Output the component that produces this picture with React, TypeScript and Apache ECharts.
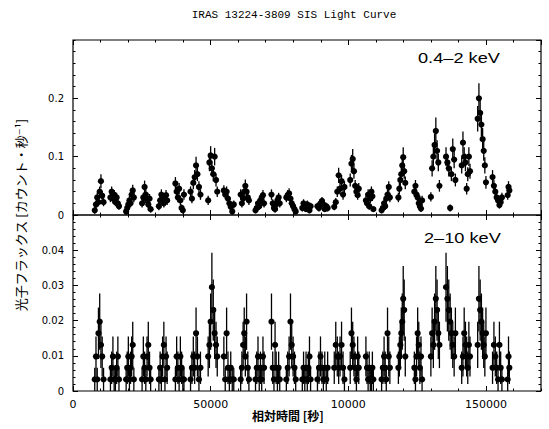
import React, { useEffect, useRef } from "react";
import * as echarts from "echarts";

const TITLE = "IRAS 13224-3809 SIS Light Curve";
const Y_NAME = "光子フラックス [カウント・秒⁻¹]";
const X_NAME = "相対時間 [秒]";
const SOFT_LABEL = "0.4–2 keV";
const HARD_LABEL = "2–10 keV";

const X_MAX = 170000;
const X_TICK_LABELS: Record<number, string> = { 0: "0", 50000: "50000", 100000: "10000", 150000: "150000" };

// time bins (s), shared by both bands
const times = [
  7900, 8350, 8800, 9250, 9700, 10150, 10600, 11100,
  13600, 14050, 14500, 14950, 15400, 15850, 16300, 16700,
  19300, 19700, 20100, 20500, 20900, 21300, 21700, 22100,
  25100, 25550, 26000, 26450, 26900, 27350, 27800, 28200,
  31200, 31650, 32100, 32550, 33000, 33400, 33800, 34200,
  37200, 37650, 38100, 38550, 39000, 39450, 39900, 40300,
  42700, 43200, 43700, 44200, 44700, 45200, 45750, 46300,
  49100, 49550, 50000, 50450, 50950, 51450, 51950, 52400,
  54800, 55300, 55800, 56300, 56800, 57300, 57850, 58400,
  60900, 61350, 61800, 62200, 62600, 63050, 63500, 63900,
  66300, 66750, 67200, 67650, 68100, 68550, 69000, 69400,
  72100, 72550, 73000, 73400, 73800, 74250, 74700, 75100,
  77500, 78000, 78500, 79000, 79450, 79950, 80450, 80900,
  83300, 83750, 84200, 84650, 85100, 85500, 85900, 86300,
  88800, 89350, 89900, 90450, 90950, 91450, 92000, 92500,
  94900, 95450, 96000, 96500, 97000, 97550, 98100, 98600,
  100700, 101150, 101600, 102050, 102500, 102950, 103400, 103800,
  106400, 106800, 107200, 107600, 108000, 108400, 108750, 109100,
  112100, 112550, 113000, 113400, 113800, 114250, 114700, 115100,
  118200, 118550, 118900, 119250, 119600, 119950, 120300, 120700,
  124000, 124400, 124800, 125200, 125600, 126000, 126400, 126800,
  130000, 130450, 130900, 131350, 131800, 132250, 132700, 133100,
  135500, 136000, 136500, 137000, 137450, 137950, 138450, 138900,
  141200, 141650, 142100, 142550, 143000, 143400, 143800, 144200,
  147000, 147450, 147900, 148350, 148800, 149200, 149600, 150000,
  152400, 152900, 153400, 153900, 154400, 154900, 155350, 155800,
  157900, 158200, 158500,
];

// 0.4-2 keV rate (counts/s)
const softVals = [
  0.008, 0.018, 0.03, 0.022, 0.04, 0.058, 0.033, 0.022,
  0.03, 0.04, 0.028, 0.035, 0.022, 0.03, 0.02, 0.015,
  0.006, 0.012, 0.018, 0.025, 0.02, 0.035, 0.042, 0.03,
  0.02, 0.03, 0.048, 0.035, 0.025, 0.018, 0.028, 0.01,
  0.015, 0.025, 0.035, 0.03, 0.02, 0.028, 0.034, 0.025,
  0.054, 0.04, 0.03, 0.045, 0.025, 0.012, 0.008, 0.035,
  0.04, 0.028, 0.055, 0.065, 0.085, 0.07, 0.048, 0.035,
  0.025, 0.09, 0.102, 0.08, 0.07, 0.1, 0.06, 0.04,
  0.042, 0.035, 0.04, 0.028, 0.02, 0.014, 0.006, 0.018,
  0.035, 0.02, 0.028, 0.04, 0.05, 0.04, 0.03, 0.025,
  0.008, 0.012, 0.02, 0.015, 0.025, 0.03, 0.034, 0.02,
  0.035, 0.02, 0.012, 0.01, 0.018, 0.025, 0.03, 0.02,
  0.03, 0.034, 0.037, 0.028, 0.02, 0.015, 0.01, 0.006,
  0.012, 0.02, 0.015, 0.01, 0.018, 0.012, 0.008, 0.015,
  0.015, 0.012, 0.02, 0.024, 0.018, 0.01, 0.015, 0.012,
  0.014, 0.022, 0.04, 0.068, 0.045, 0.058, 0.035, 0.048,
  0.06, 0.088, 0.096, 0.075, 0.05, 0.04, 0.034, 0.045,
  0.025, 0.02, 0.035, 0.015, 0.028, 0.04, 0.032, 0.01,
  0.008, 0.012, 0.02, 0.015, 0.028, 0.035, 0.048, 0.03,
  0.03, 0.045, 0.06, 0.07, 0.085, 0.099, 0.075, 0.055,
  0.04, 0.05, 0.035, 0.03, 0.02, 0.015, 0.011, 0.025,
  0.031, 0.08, 0.1, 0.12, 0.144, 0.11, 0.09, 0.05,
  0.1, 0.09, 0.08, 0.012, 0.07, 0.113, 0.095, 0.06,
  0.085, 0.124, 0.1, 0.09, 0.045, 0.07, 0.1, 0.075,
  0.165, 0.2, 0.175, 0.155, 0.13, 0.11, 0.085, 0.056,
  0.065, 0.05, 0.04, 0.03, 0.025, 0.017, 0.022, 0.03,
  0.034, 0.048, 0.042,
];

const softErrs = [
  0.006, 0.007, 0.008, 0.007, 0.009, 0.012, 0.008, 0.007,
  0.008, 0.009, 0.008, 0.008, 0.007, 0.008, 0.007, 0.006,
  0.005, 0.006, 0.007, 0.008, 0.007, 0.009, 0.01, 0.008,
  0.007, 0.008, 0.011, 0.009, 0.008, 0.007, 0.008, 0.006,
  0.007, 0.008, 0.009, 0.008, 0.007, 0.008, 0.009, 0.008,
  0.011, 0.009, 0.008, 0.01, 0.008, 0.006, 0.005, 0.009,
  0.009, 0.008, 0.011, 0.012, 0.015, 0.012, 0.01, 0.009,
  0.008, 0.015, 0.016, 0.013, 0.012, 0.015, 0.011, 0.009,
  0.009, 0.008, 0.009, 0.008, 0.007, 0.006, 0.005, 0.007,
  0.009, 0.007, 0.008, 0.009, 0.011, 0.009, 0.008, 0.008,
  0.005, 0.006, 0.007, 0.006, 0.008, 0.008, 0.009, 0.007,
  0.009, 0.007, 0.006, 0.006, 0.007, 0.008, 0.008, 0.007,
  0.008, 0.009, 0.009, 0.008, 0.007, 0.006, 0.006, 0.005,
  0.006, 0.007, 0.006, 0.005, 0.007, 0.006, 0.005, 0.006,
  0.006, 0.006, 0.007, 0.007, 0.007, 0.005, 0.006, 0.006,
  0.006, 0.007, 0.009, 0.013, 0.01, 0.011, 0.009, 0.01,
  0.011, 0.015, 0.017, 0.013, 0.01, 0.009, 0.008, 0.01,
  0.008, 0.007, 0.009, 0.006, 0.008, 0.009, 0.008, 0.005,
  0.005, 0.006, 0.007, 0.006, 0.008, 0.009, 0.01, 0.008,
  0.008, 0.01, 0.011, 0.013, 0.015, 0.017, 0.013, 0.011,
  0.009, 0.01, 0.009, 0.008, 0.007, 0.006, 0.006, 0.008,
  0.008, 0.014, 0.016, 0.019, 0.023, 0.018, 0.015, 0.01,
  0.016, 0.015, 0.014, 0.006, 0.012, 0.018, 0.015, 0.011,
  0.014, 0.019, 0.016, 0.015, 0.01, 0.012, 0.016, 0.013,
  0.022, 0.026, 0.023, 0.021, 0.019, 0.017, 0.014, 0.011,
  0.012, 0.01, 0.009, 0.008, 0.008, 0.006, 0.007, 0.008,
  0.008, 0.01, 0.009,
];

// 2-10 keV rate (counts/s)
const hardVals = [
  0.0033, 0.0098, 0.0033, 0.0164, 0.0197, 0.0131, 0.0098, 0.0033,
  0.0033, 0.0066, 0.0098, 0.0033, 0.0033, 0.0066, 0.0098, 0.0033,
  0.0033, 0.0066, 0.0098, 0.0033, 0.0066, 0.0098, 0.0131, 0.0033,
  0.0033, 0.0098, 0.0066, 0.0033, 0.0098, 0.0131, 0.0066, 0.0033,
  0.0033, 0.0066, 0.0033, 0.0098, 0.0131, 0.0033, 0.0098, 0.0066,
  0.0033, 0.0098, 0.0066, 0.0033, 0.0098, 0.0066, 0.0033, 0.0033,
  0.0033, 0.0066, 0.0098, 0.0066, 0.0164, 0.0098, 0.0033, 0.0066,
  0.0098, 0.0131, 0.0197, 0.0295, 0.023, 0.0164, 0.0131, 0.0098,
  0.0098, 0.0033, 0.0164, 0.0066, 0.0033, 0.0066, 0.0033, 0.0033,
  0.0033, 0.0066, 0.0131, 0.0164, 0.0098, 0.0197, 0.0066, 0.0033,
  0.0033, 0.0066, 0.0098, 0.0033, 0.0066, 0.0033, 0.0098, 0.0066,
  0.0197, 0.0066, 0.0033, 0.0131, 0.0066, 0.0033, 0.0066, 0.0033,
  0.0033, 0.0066, 0.0098, 0.0197, 0.0131, 0.0098, 0.0066, 0.0033,
  0.0033, 0.0066, 0.0033, 0.0066, 0.0033, 0.0066, 0.0098, 0.0033,
  0.0033, 0.0066, 0.0098, 0.0066, 0.0033, 0.0066, 0.0033, 0.0066,
  0.0066, 0.0131, 0.0098, 0.0066, 0.0098, 0.0131, 0.0066, 0.0033,
  0.0066, 0.0164, 0.0131, 0.0098, 0.0066, 0.0033, 0.0098, 0.0066,
  0.0098, 0.0066, 0.0033, 0.0066, 0.0033, 0.0033, 0.0066, 0.0033,
  0.0033, 0.0066, 0.0098, 0.0066, 0.0033, 0.0164, 0.0098, 0.0066,
  0.0066, 0.0098, 0.0131, 0.0164, 0.0197, 0.0262, 0.023, 0.0098,
  0.0066, 0.0033, 0.0098, 0.0164, 0.0131, 0.0066, 0.0098, 0.0033,
  0.0098, 0.0164, 0.0131, 0.0197, 0.0262, 0.023, 0.0164, 0.0131,
  0.0295, 0.0262, 0.023, 0.0197, 0.0164, 0.0131, 0.0098, 0.0164,
  0.0066, 0.0098, 0.0164, 0.0131, 0.0098, 0.0066, 0.0131, 0.0098,
  0.0131, 0.0262, 0.023, 0.0197, 0.0164, 0.0131, 0.0098, 0.0164,
  0.0066, 0.0131, 0.0098, 0.0066, 0.0033, 0.0131, 0.0066, 0.0033,
  0.0033, 0.0098, 0.0066,
];

const hardErrs = [
  0.0033, 0.0057, 0.0033, 0.0073, 0.008, 0.0066, 0.0057, 0.0033,
  0.0033, 0.0046, 0.0057, 0.0033, 0.0033, 0.0046, 0.0057, 0.0033,
  0.0033, 0.0046, 0.0057, 0.0033, 0.0046, 0.0057, 0.0066, 0.0033,
  0.0033, 0.0057, 0.0046, 0.0033, 0.0057, 0.0066, 0.0046, 0.0033,
  0.0033, 0.0046, 0.0033, 0.0057, 0.0066, 0.0033, 0.0057, 0.0046,
  0.0033, 0.0057, 0.0046, 0.0033, 0.0057, 0.0046, 0.0033, 0.0033,
  0.0033, 0.0046, 0.0057, 0.0046, 0.0073, 0.0057, 0.0033, 0.0046,
  0.0057, 0.0066, 0.008, 0.0098, 0.0087, 0.0073, 0.0066, 0.0057,
  0.0057, 0.0033, 0.0073, 0.0046, 0.0033, 0.0046, 0.0033, 0.0033,
  0.0033, 0.0046, 0.0066, 0.0073, 0.0057, 0.008, 0.0046, 0.0033,
  0.0033, 0.0046, 0.0057, 0.0033, 0.0046, 0.0033, 0.0057, 0.0046,
  0.008, 0.0046, 0.0033, 0.0066, 0.0046, 0.0033, 0.0046, 0.0033,
  0.0033, 0.0046, 0.0057, 0.008, 0.0066, 0.0057, 0.0046, 0.0033,
  0.0033, 0.0046, 0.0033, 0.0046, 0.0033, 0.0046, 0.0057, 0.0033,
  0.0033, 0.0046, 0.0057, 0.0046, 0.0033, 0.0046, 0.0033, 0.0046,
  0.0046, 0.0066, 0.0057, 0.0046, 0.0057, 0.0066, 0.0046, 0.0033,
  0.0046, 0.0073, 0.0066, 0.0057, 0.0046, 0.0033, 0.0057, 0.0046,
  0.0057, 0.0046, 0.0033, 0.0046, 0.0033, 0.0033, 0.0046, 0.0033,
  0.0033, 0.0046, 0.0057, 0.0046, 0.0033, 0.0073, 0.0057, 0.0046,
  0.0046, 0.0057, 0.0066, 0.0073, 0.008, 0.0093, 0.0087, 0.0057,
  0.0046, 0.0033, 0.0057, 0.0073, 0.0066, 0.0046, 0.0057, 0.0033,
  0.0057, 0.0073, 0.0066, 0.008, 0.0093, 0.0087, 0.0073, 0.0066,
  0.0098, 0.0093, 0.0087, 0.008, 0.0073, 0.0066, 0.0057, 0.0073,
  0.0046, 0.0057, 0.0073, 0.0066, 0.0057, 0.0046, 0.0066, 0.0057,
  0.0066, 0.0093, 0.0087, 0.008, 0.0073, 0.0066, 0.0057, 0.0073,
  0.0046, 0.0066, 0.0057, 0.0046, 0.0033, 0.0066, 0.0046, 0.0033,
  0.0033, 0.0057, 0.0046,
];

const renderErrorPoint = (params: any, api: any) => {
  const x = api.value(0);
  const y = api.value(1);
  const e = api.value(2);
  const p = api.coord([x, y]);
  const lo = api.coord([x, Math.max(y - e, 0)]);
  const hi = api.coord([x, y + e]);
  return {
    type: "group",
    children: [
      {
        type: "line",
        shape: { x1: p[0], y1: lo[1], x2: p[0], y2: hi[1] },
        style: { stroke: "#000", lineWidth: 1.3 },
      },
      {
        type: "circle",
        shape: { cx: p[0], cy: p[1], r: 3.1 },
        style: { fill: "#000" },
      },
    ],
  };
};

const tickFont = "'DejaVu Sans', sans-serif";

function xAx(gridIndex: number, position: string, interval: number, len: number, labels: boolean) {
  return {
    type: "value",
    gridIndex,
    position,
    min: 0,
    max: X_MAX,
    interval,
    axisLine: { show: false, onZero: false },
    splitLine: { show: false },
    axisTick: { show: true, inside: true, length: len, lineStyle: { color: "#000", width: 1 } },
    axisLabel: labels
      ? {
          show: true,
          margin: 8,
          color: "#000",
          fontSize: 11,
          fontFamily: tickFont,
          showMaxLabel: false,
          formatter: (v: number) => (X_TICK_LABELS[v] !== undefined ? X_TICK_LABELS[v] : ""),
        }
      : { show: false },
  };
}

function yAx(gridIndex: number, position: string, max: number, interval: number, len: number, labels: boolean) {
  return {
    type: "value",
    gridIndex,
    position,
    min: 0,
    max,
    interval,
    axisLine: { show: false, onZero: false },
    splitLine: { show: false },
    axisTick: { show: true, inside: true, length: len, lineStyle: { color: "#000", width: 1 } },
    axisLabel: labels
      ? { show: true, margin: 9, color: "#000", fontSize: 10, fontFamily: tickFont, showMaxLabel: false }
      : { show: false },
  };
}

export default function App() {
  const ref = useRef<HTMLDivElement>(null);
  useEffect(() => {
    if (!ref.current) return;
    const chart = echarts.init(ref.current, null, { renderer: "svg" });
    const softData = times.map((t, i) => [t, softVals[i], softErrs[i]]);
    const hardData = times.map((t, i) => [t, hardVals[i], hardErrs[i]]);
    chart.setOption({
      animation: false,
      backgroundColor: "#fff",
      grid: [
        { left: 73, top: 40, width: 468, height: 175, show: true, borderColor: "#000", borderWidth: 1.2, backgroundColor: "transparent" },
        { left: 73, top: 215, width: 468, height: 176, show: true, borderColor: "#000", borderWidth: 1.2, backgroundColor: "transparent" },
      ],
      xAxis: [
        xAx(0, "bottom", 50000, 5, false),
        xAx(0, "bottom", 10000, 2.5, false),
        xAx(0, "top", 50000, 5, false),
        xAx(0, "top", 10000, 2.5, false),
        xAx(1, "bottom", 50000, 5, true),
        xAx(1, "bottom", 10000, 2.5, false),
        xAx(1, "top", 50000, 5, false),
        xAx(1, "top", 10000, 2.5, false),
      ],
      yAxis: [
        yAx(0, "left", 0.3, 0.1, 5, true),
        yAx(0, "left", 0.3, 0.02, 2.5, false),
        yAx(0, "right", 0.3, 0.1, 5, false),
        yAx(0, "right", 0.3, 0.02, 2.5, false),
        yAx(1, "left", 0.05, 0.01, 5, true),
        yAx(1, "left", 0.05, 0.002, 2.5, false),
        yAx(1, "right", 0.05, 0.01, 5, false),
        yAx(1, "right", 0.05, 0.002, 2.5, false),
      ],
      series: [
        { type: "custom", name: SOFT_LABEL, xAxisIndex: 0, yAxisIndex: 0, data: softData, encode: { x: 0, y: 1 }, renderItem: renderErrorPoint },
        { type: "custom", name: HARD_LABEL, xAxisIndex: 4, yAxisIndex: 4, data: hardData, encode: { x: 0, y: 1 }, renderItem: renderErrorPoint },
      ],
      graphic: [
        {
          type: "text",
          x: 294,
          y: 15,
          style: { text: TITLE, fontSize: 11, fontFamily: "'Liberation Mono', monospace", fill: "#000", align: "center", verticalAlign: "middle" },
        },
        {
          type: "text",
          x: 418,
          y: 58,
          scaleX: 1.3,
          style: { text: SOFT_LABEL, fontSize: 14, fontFamily: "'Liberation Sans', sans-serif", fill: "#000", align: "left", verticalAlign: "middle" },
        },
        {
          type: "text",
          x: 424,
          y: 238,
          scaleX: 1.3,
          style: { text: HARD_LABEL, fontSize: 14, fontFamily: "'Liberation Sans', sans-serif", fill: "#000", align: "left", verticalAlign: "middle" },
        },
        {
          type: "text",
          x: 20,
          y: 215,
          rotation: Math.PI / 2,
          style: { text: Y_NAME, fontSize: 13, fontFamily: "'Noto Sans CJK JP', 'DejaVu Sans', sans-serif", fill: "#000", align: "center", verticalAlign: "middle" },
        },
        {
          type: "text",
          x: 288,
          y: 415,
          style: { text: X_NAME, fontSize: 12, fontWeight: "bold", fontFamily: "'Noto Sans CJK JP', sans-serif", fill: "#000", align: "center", verticalAlign: "middle" },
        },
      ],
    });
    return () => chart.dispose();
  }, []);
  return <div ref={ref} style={{ position: "fixed", left: 0, top: 0, width: 549, height: 429 }} />;
}
